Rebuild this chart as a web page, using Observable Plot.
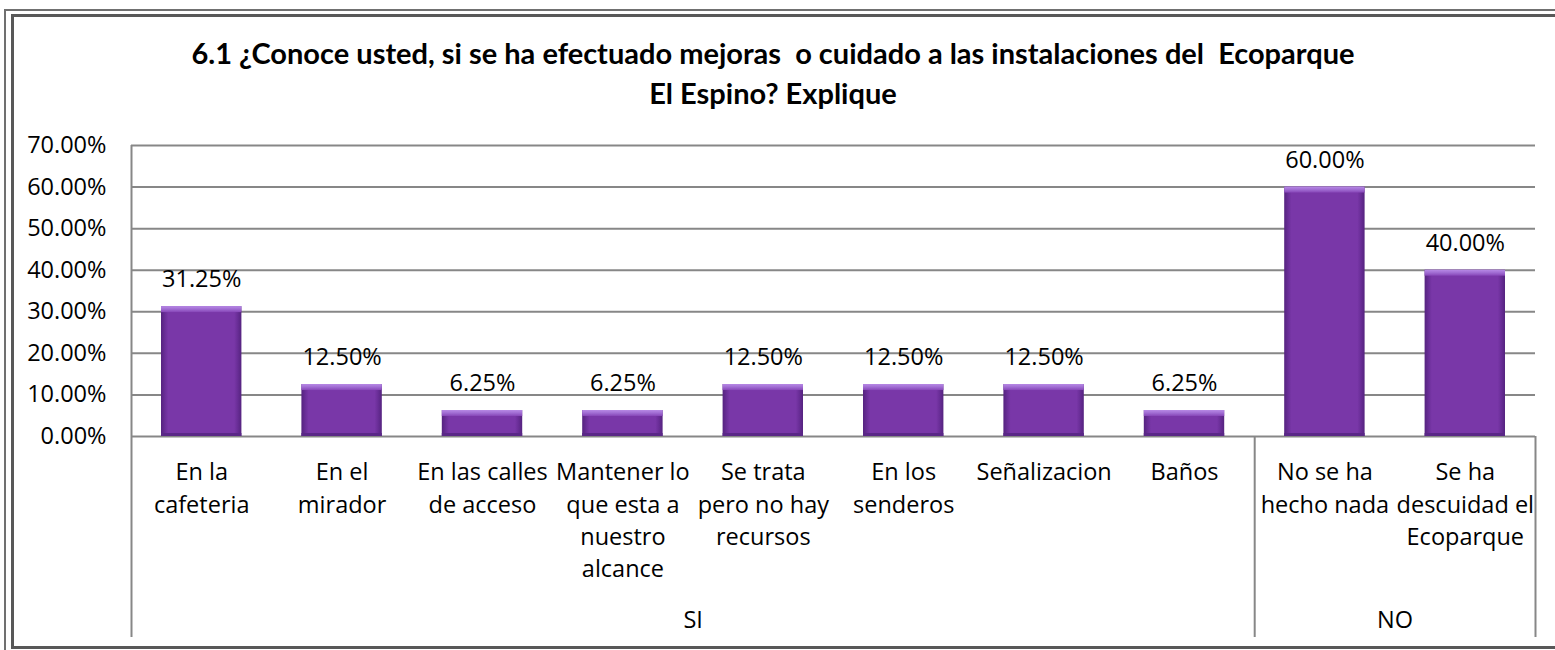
<!DOCTYPE html>
<html>
<head>
<meta charset="utf-8">
<script src="https://cdn.jsdelivr.net/npm/d3@7"></script>
<script src="https://cdn.jsdelivr.net/npm/@observablehq/plot@0.6"></script>
<style>
  html, body { margin: 0; padding: 0; background: #fff; overflow: hidden; }
  #wrap { position: relative; width: 1555px; height: 650px; overflow: hidden; background: #fff; }
  #title { position: absolute; left: 0; top: 0; width: 1546px; height: 120px; box-sizing: border-box;
           padding-top: 33px; text-align: center; font-family: Lato, "Open Sans", sans-serif; font-weight: 700;
           font-size: 29px; line-height: 40px; color: #000; white-space: pre; }
  #chart { position: absolute; left: 0; top: 120px; }
  #outer { position: absolute; left: 4px; top: 9px; width: 1600px; height: 700px; border: 2.5px solid #707070; border-right: none; border-bottom: none; box-sizing: border-box; pointer-events: none; }
  #inner { position: absolute; left: 11px; top: 14px; width: 1600px; height: 635px; border: 3.5px solid #585858; border-right: none; box-sizing: border-box; pointer-events: none; }
</style>
</head>
<body>
<div id="wrap">
  <div id="title">6.1 ¿Conoce usted, si se ha efectuado mejoras  o cuidado a las instalaciones del  Ecoparque
El Espino? Explique</div>
  <div id="chart"></div>
  <div id="outer"></div>
  <div id="inner"></div>
</div>
<script>
// ---- data ----
const categories = [
  "En la\ncafeteria",
  "En el\nmirador",
  "En las calles\nde acceso",
  "Mantener lo\nque esta a\nnuestro\nalcance",
  "Se trata\npero no hay\nrecursos",
  "En los\nsenderos",
  "Señalizacion",
  "Baños",
  "No se ha\nhecho nada",
  "Se ha\ndescuidad el\nEcoparque"
];
const values = [0.3125, 0.125, 0.0625, 0.0625, 0.125, 0.125, 0.125, 0.0625, 0.60, 0.40];
const groups = ["SI", "SI", "SI", "SI", "SI", "SI", "SI", "SI", "NO", "NO"];
const yTicks = [0, 0.1, 0.2, 0.3, 0.4, 0.5, 0.6, 0.7];

// ---- derived tables ----
const rows = categories.map((c, i) => ({i, category: c, value: values[i], group: groups[i]}));
const groupNames = Array.from(new Set(groups));
const groupSpans = groupNames.map(g => {
  const idx = groups.map((d, i) => d === g ? i : -1).filter(i => i >= 0);
  return {group: g, start: d3.min(idx), end: d3.max(idx) + 1};
});
const boundaries = [0, ...groupSpans.map(s => s.end)];
const fmt = d3.format(".2%");

const barInset = 30;
const chart = Plot.plot({
  width: 1555,
  height: 530,
  marginTop: 25,
  marginLeft: 131,
  marginRight: 20,
  marginBottom: 214,
  x: {type: "linear", domain: [0, categories.length], axis: null},
  y: {domain: [0, 0.7], axis: null},
  style: {fontFamily: "'Open Sans', sans-serif", fontSize: "23.5px", color: "#000", background: "transparent", overflow: "visible"},
  marks: [
    Plot.ruleY(yTicks, {y: d => d, stroke: "#878787", strokeWidth: 2}),
    // left axis line (extends down through category labels)
    Plot.ruleX([boundaries[0]], {x: d => d, y1: 0.7, y2: 0, stroke: "#878787", strokeWidth: 2, insetBottom: -201}),
    // group dividers & right edge below the axis
    Plot.ruleX(boundaries.slice(1), {x: d => d, y1: 0, y2: 0, stroke: "#878787", strokeWidth: 2, insetBottom: -201}),
    // bars
    Plot.rectY(rows, {x1: d => d.i, x2: d => d.i + 1, y1: 0, y2: d => d.value, fill: "url(#barGrad)", insetLeft: barInset, insetRight: barInset}),
    // top bevel highlight
    Plot.rectY(rows, {x1: d => d.i, x2: d => d.i + 1, y1: d => d.value, y2: d => d.value, fill: "url(#topGrad)", insetLeft: barInset, insetRight: barInset, insetBottom: -6}),
    // bottom dark edge
    Plot.rectY(rows, {x1: d => d.i, x2: d => d.i + 1, y1: 0, y2: 0, fill: "#5a2787", insetLeft: barInset, insetRight: barInset, insetTop: -3}),
    // value labels
    Plot.text(rows, {x: d => d.i + 0.5, y: d => d.value, text: d => fmt(d.value), lineAnchor: "middle", dy: -27, fill: "#000"}),
    // y tick labels
    Plot.text(yTicks, {frameAnchor: "left", y: d => d, text: d => fmt(d), textAnchor: "end", dx: -25, lineAnchor: "middle", fill: "#000"}),
    // category labels
    Plot.text(rows, {x: d => d.i + 0.5, frameAnchor: "bottom", text: d => d.category, lineAnchor: "top", dy: 21, lineHeight: 1.37, fill: "#000"}),
    // group labels
    Plot.text(groupSpans, {x: d => (d.start + d.end) / 2, frameAnchor: "bottom", text: d => d.group, lineAnchor: "middle", dy: 184, fill: "#000"})
  ]
});

const defs = d3.select(chart).insert("defs", ":first-child");
const g1 = defs.append("linearGradient").attr("id", "barGrad").attr("x1", 0).attr("x2", 1).attr("y1", 0).attr("y2", 0);
[["0%", "#55237f"], ["5%", "#6a2e98"], ["9%", "#7937a8"], ["91%", "#7937a8"], ["95%", "#6a2e98"], ["100%", "#55237f"]]
  .forEach(([o, c]) => g1.append("stop").attr("offset", o).attr("stop-color", c));
const g2 = defs.append("linearGradient").attr("id", "topGrad").attr("x1", 0).attr("x2", 0).attr("y1", 0).attr("y2", 1);
[["0%", "#b88ae6"], ["50%", "#a06cd2"], ["100%", "#8746b8"]]
  .forEach(([o, c]) => g2.append("stop").attr("offset", o).attr("stop-color", c));

document.getElementById("chart").appendChild(chart);
</script>
</body>
</html>
